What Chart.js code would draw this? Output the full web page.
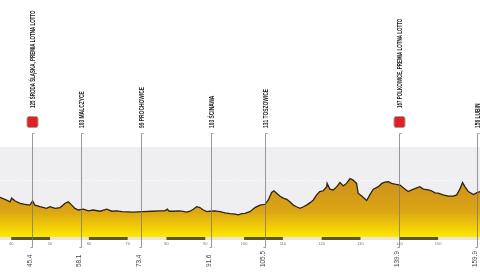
<!DOCTYPE html>
<html>
<head>
<meta charset="utf-8">
<script src="https://cdn.jsdelivr.net/npm/chart.js@4"></script>
<style>
html,body{margin:0;padding:0;background:#fff;}
canvas{display:block;}
</style>
</head>
<body>
<canvas id="c" width="480" height="280"></canvas>
<script>
// Distance (km) and elevation (m) of the stage profile
const km = [37.1,38.8,39.7,40.1,41.0,42.3,43.5,44.8,45.5,46.1,47.4,49.1,50.0,51.3,52.6,53.8,54.7,55.6,56.4,57.3,58.6,59.9,61.1,62.9,64.6,65.9,67.2,68.5,71.4,73.9,76.5,78.3,79.6,80.2,80.7,81.8,83.0,83.9,85.2,86.1,86.9,87.8,88.6,89.5,90.4,91.2,92.5,93.8,95.1,96.4,97.7,98.5,99.4,100.2,101.5,102.8,104.1,105.4,106.2,107.1,107.7,108.4,109.2,110.1,111.0,111.8,112.7,113.5,114.4,115.3,116.1,117.0,117.8,118.7,119.5,120.4,121.3,121.4,122.1,123.0,123.9,124.7,125.6,126.4,127.3,128.1,129.0,129.4,130.3,131.6,132.4,133.3,134.6,135.5,136.3,137.2,138.0,138.9,140.2,141.5,142.3,143.2,144.5,145.3,146.2,147.5,148.3,149.2,150.0,151.3,152.6,153.9,154.8,155.6,156.3,156.9,157.8,159.1,159.9,160.8];
const elevation = [137,130,126,135,128,122,120,118,128,118,114,110,114,110,112,122,126,118,110,106,108,104,106,103,108,103,104,102,101,102,103,104,104,108,103,103,104,103,101,103,108,114,112,106,102,103,104,102,99,97,96,94,97,98,102,112,118,120,130,149,153,147,140,135,132,126,118,114,110,114,118,124,130,143,151,153,163,171,157,155,163,173,165,171,183,179,171,147,140,129,143,157,163,171,174,175,171,169,167,157,151,155,160,163,157,155,153,148,147,143,140,140,143,157,173,163,151,144,148,151];

// Route points
const markerKm = [45.4, 58.1, 73.4, 91.6, 105.5, 139.9, 159.9];
const markerKmLabels = ['45.4', '58.1', '73.4', '91.6', '105.5', '139.9', '159.9'];
const markerNames = ['125 ŚRODA ŚLĄSKA, PREMIA LOTNA LOTTO', '103 MALCZYCE', '99 PROCHOWICE', '103 ŚCINAWA', '131 TOSZOWICE', '167 POLKOWICE, PREMIA LOTNA LOTTO', '156 LUBIN'];
const markerSprint = [true, false, false, false, false, true, false];

// Distance ticks along the bottom strip
const bandTicks = [40, 50, 60, 70, 80, 90, 100, 110, 120, 130, 140, 150];
const gridElevation = [180];

const points = km.map((k, i) => ({x: k, y: elevation[i]}));

const decor = {
  id: 'decor',
  beforeDatasetsDraw(chart) {
    const {ctx, chartArea: ca, scales: {y}} = chart;
    ctx.save();
    ctx.fillStyle = '#efeff1';
    ctx.fillRect(ca.left, ca.top, ca.right - ca.left, ca.bottom - ca.top);
    ctx.strokeStyle = '#ffffff';
    ctx.lineWidth = 1;
    ctx.setLineDash([1, 2]);
    gridElevation.forEach(v => {
      const py = Math.round(y.getPixelForValue(v)) + 0.5;
      ctx.beginPath(); ctx.moveTo(ca.left, py); ctx.lineTo(ca.right, py); ctx.stroke();
    });
    ctx.restore();
  },
  afterDatasetsDraw(chart) {
    const {ctx, chartArea: ca, scales: {x}} = chart;
    ctx.save();
    // bottom strip
    ctx.fillStyle = '#ebe7d6';
    ctx.fillRect(ca.left, ca.bottom, ca.right - ca.left, 3);
    ctx.fillStyle = '#5c5535';
    for (let i = 0; i < bandTicks.length - 1; i += 2) {
      const a = x.getPixelForValue(bandTicks[i]);
      const b = x.getPixelForValue(bandTicks[i + 1]);
      ctx.fillRect(a, ca.bottom, b - a, 3);
    }
    ctx.fillStyle = '#777';
    ctx.font = '4px "Liberation Sans", Arial, sans-serif';
    ctx.textAlign = 'center';
    ctx.textBaseline = 'middle';
    bandTicks.forEach(t => ctx.fillText(String(t), x.getPixelForValue(t), ca.bottom + 7));

    // vertical markers
    markerKm.forEach((k, i) => {
      const px = Math.round(x.getPixelForValue(k)) + 0.5;
      ctx.strokeStyle = 'rgba(120,120,120,0.75)';
      ctx.lineWidth = 1;
      ctx.beginPath();
      ctx.moveTo(px + 2, 133.5); ctx.lineTo(px, 133.5); ctx.lineTo(px, 247.5); ctx.lineTo(px - 2, 247.5);
      ctx.stroke();

      // top name label
      const startY = markerSprint[i] ? 108 : 128;
      ctx.save();
      ctx.translate(px + 0.5, startY);
      ctx.rotate(-Math.PI / 2);
      ctx.scale(markerSprint[i] ? 0.64 : 0.7, 1);
      ctx.fillStyle = '#222';
      ctx.font = 'bold 7px "Liberation Sans", Arial, sans-serif';
      ctx.textAlign = 'left';
      ctx.textBaseline = 'middle';
      ctx.fillText(markerNames[i], 0, 0);
      ctx.restore();

      if (markerSprint[i]) {
        ctx.save();
        ctx.fillStyle = '#e31e24';
        ctx.strokeStyle = '#a0a0a0';
        ctx.lineWidth = 1;
        ctx.beginPath();
        if (ctx.roundRect) ctx.roundRect(px - 5.5, 116.5, 11, 11, 2); else ctx.rect(px - 5.5, 116.5, 11, 11);
        ctx.fill(); ctx.stroke();
        ctx.restore();
      }

      // bottom km label
      ctx.save();
      ctx.translate(px - 2.5, 267);
      ctx.rotate(-Math.PI / 2);
      ctx.scale(0.85, 1);
      ctx.fillStyle = '#444';
      ctx.font = '7.5px "Liberation Sans", Arial, sans-serif';
      ctx.textAlign = 'left';
      ctx.textBaseline = 'middle';
      ctx.fillText(markerKmLabels[i], 0, 0);
      ctx.restore();
    });
    ctx.restore();
  }
};

new Chart(document.getElementById('c'), {
  type: 'line',
  data: {
    datasets: [{
      data: points,
      borderColor: '#2e2412',
      borderWidth: 1.3,
      pointRadius: 0,
      tension: 0,
      fill: 'start',
      backgroundColor: (c) => {
        const ca = c.chart.chartArea;
        if (!ca) return '#d8a018';
        const g = c.chart.ctx.createLinearGradient(0, ca.top, 0, ca.bottom);
        g.addColorStop(0, '#c68812');
        g.addColorStop(0.45, '#cf951c');
        g.addColorStop(0.72, '#dca614');
        g.addColorStop(0.88, '#f0cb08');
        g.addColorStop(1, '#ffe900');
        return g;
      }
    }]
  },
  options: {
    responsive: false,
    animation: false,
    devicePixelRatio: 1,
    layout: {padding: {top: 147, bottom: 43, left: 0, right: 0}},
    plugins: {legend: {display: false}, tooltip: {enabled: false}},
    scales: {
      x: {type: 'linear', min: 37.1, max: 160.8, display: false},
      y: {min: 40, max: 260, display: false}
    }
  },
  plugins: [decor]
});
</script>
</body>
</html>
